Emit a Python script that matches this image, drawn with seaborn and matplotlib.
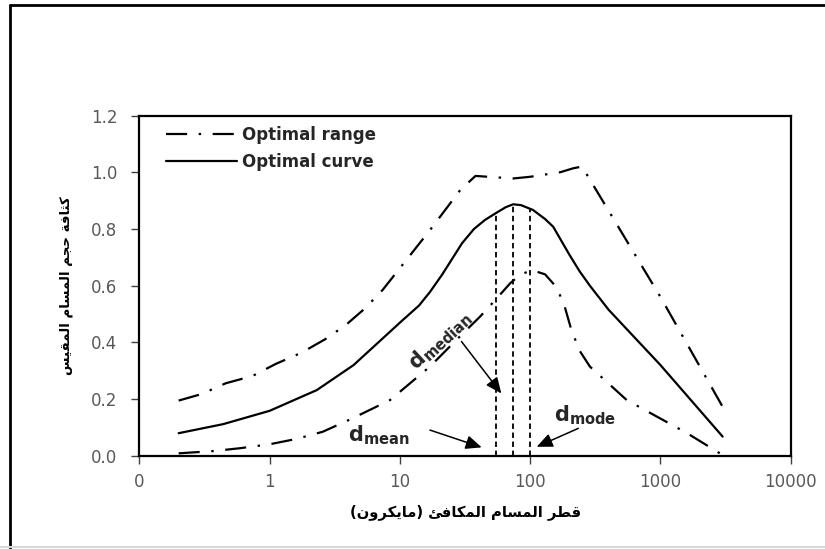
import numpy as np
import pandas as pd
import matplotlib
matplotlib.use("Agg")
import matplotlib.pyplot as plt
from matplotlib.lines import Line2D
import seaborn as sns

# ---------------- data ----------------
curve_x = [0.2, 0.44, 1, 2.3, 4.4, 8.4, 10, 14, 17, 21, 30, 37, 45, 55, 65, 74, 85, 105,
           130, 150, 169, 200, 240, 287, 400, 1000, 3000]
curve_y = [0.08, 0.112, 0.159, 0.232, 0.32, 0.438, 0.47, 0.53, 0.578, 0.638, 0.75, 0.8,
           0.832, 0.857, 0.877, 0.887, 0.884, 0.867, 0.835, 0.808, 0.767, 0.709, 0.65,
           0.6, 0.515, 0.32, 0.068]

upper_x = [0.2, 0.3, 0.46, 0.74, 1.11, 1.76, 2.66, 3.83, 5.39, 7.36, 17, 29, 38, 55, 74,
           100, 170, 214, 250, 1000, 3000]
upper_y = [0.195, 0.218, 0.256, 0.282, 0.324, 0.364, 0.411, 0.461, 0.52, 0.585, 0.796,
           0.937, 0.987, 0.982, 0.978, 0.984, 1.0, 1.014, 1.02, 0.56, 0.173]

lower_x = [0.2, 0.37, 0.59, 1, 1.61, 2.55, 4.26, 6.24, 8.4, 17, 30, 41, 54, 70, 83, 103,
           130, 150, 169, 184, 207, 240, 287, 550, 1600, 3000]
lower_y = [0.009, 0.017, 0.027, 0.041, 0.06, 0.085, 0.131, 0.168, 0.197, 0.315, 0.429,
           0.49, 0.55, 0.608, 0.638, 0.655, 0.64, 0.608, 0.567, 0.526, 0.444, 0.37, 0.315,
           0.197, 0.08, 0.003]

marker_x = [55, 74, 100]          # d_mean, d_median, d_mode positions
xtick_vals = [0.1, 1, 10, 100, 1000, 10000]
xtick_labels = ["0", "1", "10", "100", "1000", "10000"]
ytick_vals = [0.0, 0.2, 0.4, 0.6, 0.8, 1.0, 1.2]

legend_range = "Optimal range"
legend_curve = "Optimal curve"
xlabel_txt = "قطر المسام المكافئ (مايكرون)"
ylabel_txt = "كثافة حجم المسام المقيس"

# ------------- minimal Arabic shaping (presentation forms + visual order) -------------
FORMS = {
    'ا': ('\uFE8D', '\uFE8E', None, None),
    'ة': ('\uFE93', '\uFE94', None, None),
    'ث': ('\uFE99', '\uFE9A', '\uFE9B', '\uFE9C'),
    'ج': ('\uFE9D', '\uFE9E', '\uFE9F', '\uFEA0'),
    'ح': ('\uFEA1', '\uFEA2', '\uFEA3', '\uFEA4'),
    'ر': ('\uFEAD', '\uFEAE', None, None),
    'س': ('\uFEB1', '\uFEB2', '\uFEB3', '\uFEB4'),
    'ط': ('\uFEC1', '\uFEC2', '\uFEC3', '\uFEC4'),
    'ف': ('\uFED1', '\uFED2', '\uFED3', '\uFED4'),
    'ق': ('\uFED5', '\uFED6', '\uFED7', '\uFED8'),
    'ك': ('\uFED9', '\uFEDA', '\uFEDB', '\uFEDC'),
    'ل': ('\uFEDD', '\uFEDE', '\uFEDF', '\uFEE0'),
    'م': ('\uFEE1', '\uFEE2', '\uFEE3', '\uFEE4'),
    'ن': ('\uFEE5', '\uFEE6', '\uFEE7', '\uFEE8'),
    'و': ('\uFEED', '\uFEEE', None, None),
    'ي': ('\uFEF1', '\uFEF2', '\uFEF3', '\uFEF4'),
    'ئ': ('\uFE89', '\uFE8A', '\uFE8B', '\uFE8C'),
}


def shape_ar(s):
    out = []
    n = len(s)
    for i, ch in enumerate(s):
        if ch not in FORMS:
            out.append(ch)
            continue
        prev = s[i - 1] if i > 0 else None
        nxt = s[i + 1] if i < n - 1 else None
        jp = prev in FORMS and FORMS[prev][2] is not None
        jn = nxt in FORMS and FORMS[ch][2] is not None
        f = FORMS[ch]
        if jp and jn:
            out.append(f[3])
        elif jp:
            out.append(f[1])
        elif jn:
            out.append(f[2])
        else:
            out.append(f[0])
    mirror = {'(': ')', ')': '('}
    return ''.join(mirror.get(c, c) for c in reversed(out))


# ---------------- plot ----------------
sns.set_theme(style="white")
plt.rcParams['font.family'] = ['DejaVu Sans']
plt.rcParams['mathtext.fontset'] = 'dejavusans'

fig = plt.figure(figsize=(8.25, 5.49), dpi=100)
ax = fig.add_axes([0.169, 0.1696, 0.7895, 0.62])

dash_dot = (0, (9.5, 5.2, 1.1, 5.2))

df_c = pd.DataFrame({"x": curve_x, "y": curve_y})
df_u = pd.DataFrame({"x": upper_x, "y": upper_y})
df_l = pd.DataFrame({"x": lower_x, "y": lower_y})

sns.lineplot(data=df_u, x="x", y="y", ax=ax, color="black", lw=1.6, linestyle=dash_dot,
             label=legend_range, sort=False, estimator=None)
sns.lineplot(data=df_c, x="x", y="y", ax=ax, color="black", lw=1.6, linestyle="-",
             label=legend_curve, sort=False, estimator=None)
sns.lineplot(data=df_l, x="x", y="y", ax=ax, color="black", lw=1.6, linestyle=dash_dot,
             label="_nolegend_", sort=False, estimator=None)

ax.set_xscale("log")
ax.set_xlim(0.1, 10000)
ax.set_ylim(0, 1.2)

# vertical dashed lines up to the optimal curve
tops = np.interp(np.log10(marker_x), np.log10(curve_x), curve_y)
ax.vlines(marker_x, 0, tops, colors="black", linestyles=(0, (3, 2)), lw=1.3)

ax.set_xticks(xtick_vals)
ax.set_xticklabels(xtick_labels)
ax.xaxis.set_minor_locator(matplotlib.ticker.NullLocator())
ax.set_yticks(ytick_vals)
ax.set_yticklabels([f"{v:.1f}" for v in ytick_vals])
ax.tick_params(axis="both", which="major", direction="out", length=6, width=1,
               color="#404040", labelsize=12, labelcolor="#595959",
               bottom=True, left=True)
ax.tick_params(axis="y", pad=10)
ax.tick_params(axis="x", pad=6)

for sp in ax.spines.values():
    sp.set_color("black")
    sp.set_linewidth(1.6)

ax.set_xlabel(shape_ar(xlabel_txt), fontsize=10.6, fontweight="bold", color="black", labelpad=10)
ax.set_ylabel(shape_ar(ylabel_txt), fontsize=9.6, fontweight="bold", color="black", labelpad=13)

leg = ax.legend(loc="upper left", frameon=False, prop={"weight": "bold", "size": 12},
                handlelength=4.3, handletextpad=0.3, labelspacing=0.55,
                bbox_to_anchor=(0.025, 1.0), borderaxespad=0.2)

# annotations
arrow_kw = dict(arrowstyle="-|>,head_length=0.8,head_width=0.35", color="black", lw=1.1,
                shrinkA=0, shrinkB=0)
ax.annotate("", xy=(42.4, 0.03), xytext=(17, 0.091), arrowprops=arrow_kw)
ax.annotate("", xy=(60, 0.22), xytext=(29.7, 0.403), arrowprops=arrow_kw)
ax.annotate("", xy=(112, 0.032), xytext=(234, 0.097), arrowprops=arrow_kw)

ax.text(6.9, 0.05, r"$\mathbf{d}_{\mathbf{mean}}$", fontsize=15, ha="center", va="baseline")
ax.text(263, 0.122, r"$\mathbf{d}_{\mathbf{mode}}$", fontsize=15, ha="center", va="baseline")
ax.text(20.3, 0.409, r"$\mathbf{d}_{\mathbf{median}}$", fontsize=15, ha="center", va="center",
        rotation=43, rotation_mode="anchor")

# figure frame (left/top dark, bottom light)
fig.add_artist(Line2D([10 / 825, 10 / 825], [0, 1 - 5 / 549], transform=fig.transFigure,
                      color="black", lw=2))
fig.add_artist(Line2D([10 / 825, 1], [1 - 5 / 549, 1 - 5 / 549], transform=fig.transFigure,
                      color="black", lw=2))
fig.add_artist(Line2D([0, 1], [2 / 549, 2 / 549], transform=fig.transFigure,
                      color="#d9d9d9", lw=1.5))

fig.savefig("out.png", dpi=100)
